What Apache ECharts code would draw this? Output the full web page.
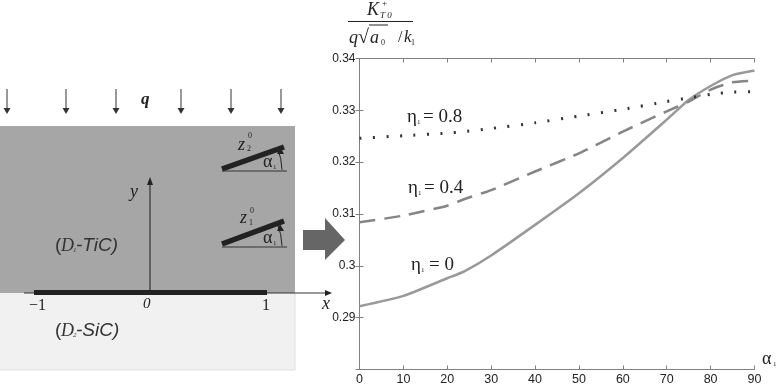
<!DOCTYPE html>
<html><head><meta charset="utf-8">
<style>html,body{margin:0;padding:0;background:#fff}#c{width:778px;height:384px}</style>
<script src="https://cdn.jsdelivr.net/npm/echarts@6/dist/echarts.min.js"></script>
</head><body><div id="c"></div>
<script>
const alphaDeg = [0,10,20,24,30,40,50,60,70,75,80,85,90];
const eta0  = [0.2922,0.2942,0.2976,0.2990,0.3020,0.3079,0.3140,0.3208,0.3282,0.3320,0.3347,0.3368,0.3377];
const eta04 = [0.3084,0.3097,0.3116,0.3129,0.3146,0.3182,0.3217,0.3259,0.3298,0.3317,0.3340,0.3354,0.3357];
const eta08 = [0.3246,0.3251,0.3256,0.3259,0.3265,0.3276,0.3289,0.3302,0.3317,0.3324,0.3331,0.3335,0.3336];
const xTicks = [0,90,10];
const yTicks = [0.28,0.34,0.01];
const pts = a => alphaDeg.map((x,i)=>[x,a[i]]);
const serif = '"Liberation Serif","DejaVu Serif",serif';
const sans = '"Liberation Sans",Arial,sans-serif';
const T = (x,y,text,size,opt={}) => ({type:'text',x,y,silent:true,style:Object.assign({text,font:`${opt.weight||''} ${opt.italic?'italic':''} ${size}px ${opt.family||serif}`,fill:opt.fill||'#222',textAlign:opt.align||'left',textVerticalAlign:'middle'})});
const L = (x1,y1,x2,y2,w,c) => ({type:'line',silent:true,shape:{x1,y1,x2,y2},style:{stroke:c,lineWidth:w}});
const P = (points,c) => ({type:'polygon',silent:true,shape:{points},style:{fill:c}});
const down = x => [L(x,89,x,109,1,'#333'),P([[x-3.5,108],[x+3.5,108],[x,114]],'#333')];
const tiltCrack = (y0,yTop,yEnd,yb) => [
  L(222,y0,284,yTop,5.5,'#222'), L(222,yb,287,yb,1,'#333'),
  {type:'arc',silent:true,shape:{cx:222,cy:yb,r:60,startAngle:-0.40,endAngle:-0.02},style:{stroke:'#222',fill:'none',lineWidth:1}},
  P([[277,yEnd+1],[284,yEnd+1],[280,yEnd-6]],'#222')
];
const graphics = [
  {type:'rect',silent:true,shape:{x:0,y:126,width:295,height:167},style:{fill:'#a6a6a6'}},
  {type:'rect',silent:true,shape:{x:0,y:293,width:295,height:77},style:{fill:'#f1f1f1'}},
  L(295,293,295,370,1,'#e0e0e0'), L(0,370,295,370,1,'#e0e0e0'),
  ...[7,66,116,181,231,281].flatMap(down),
  T(141,100,'q',17,{weight:'bold',italic:true}),
  L(24,293,327,293,1,'#333'), P([[325,290],[325,296],[332,293]],'#222'),
  L(150,293,150,184,1.2,'#333'), P([[147,185],[153,185],[150,177]],'#222'),
  L(34,292.5,267,292.5,5,'#222'),
  T(130,192,'y',18,{italic:true}),
  T(322,304,'x',18,{italic:true}),
  T(29,306,'\u22121',16), T(143,304,'0',15,{italic:true}), T(262,306,'1',16),
  T(55,246,'(',19,{family:sans,fill:'#333'}), T(61,246,'D',18,{italic:true,fill:'#333'}), T(73,250,'1',7,{italic:true,fill:'#333'}), T(76,246,'-TiC)',19,{italic:true,family:sans,fill:'#333'}),
  T(55,331,'(',19,{family:sans,fill:'#333'}), T(61,331,'D',18,{italic:true,fill:'#333'}), T(73,335,'2',7,{italic:true,fill:'#333'}), T(76,331,'-SiC)',19,{italic:true,family:sans,fill:'#333'}),
  ...tiltCrack(169,147,153,171),
  T(238,145,'z',18,{italic:true}), T(248,136,'0',8), T(247,149,'2',8),
  T(263,162,'\u03b1',18), T(273,167,'1',7),
  ...tiltCrack(244,221,230,247),
  T(240,218,'z',18,{italic:true}), T(250,211,'0',8), T(249,223,'1',8),
  T(263,238,'\u03b1',18), T(273,243,'1',7),
  P([[303,230],[325,230],[325,218],[345,240],[325,260],[325,250],[303,250]],'#666'),
  T(367,10,'K',18,{italic:true}), T(382,4,'+',9), T(380,16,'T 0',9,{italic:true}),
  L(348,21.5,413,21.5,1,'#222'),
  T(349,38,'q',18,{italic:true}), T(358,38,'\u221a',20), L(369,25,388,25,1,'#222'),
  T(370,38,'a',18,{italic:true}), T(381,43,'0',8), T(398,38,'/',16), T(404,38,'k',17,{italic:true}), T(411,43,'1',8),
  T(407,117,'\u03b7',19), T(417,122,'1',7), T(423,117,'= 0.8',19),
  T(408,188,'\u03b7',19), T(418,193,'1',7), T(424,188,'= 0.4',19),
  T(411,265,'\u03b7',19), T(421,270,'1',7), T(429,265,'= 0',19),
  T(762,359,'\u03b1',18), T(773,364,'1',7)
];
const axCol = '#808080';
const xBase = {type:'value',min:xTicks[0],max:xTicks[1],interval:xTicks[2],
  axisLine:{show:true,lineStyle:{color:axCol,width:1}},splitLine:{show:false},
  axisTick:{show:true,inside:true,length:4,lineStyle:{color:axCol}}};
const yBase = {type:'value',min:yTicks[0],max:yTicks[1],interval:yTicks[2],
  axisLine:{show:true,lineStyle:{color:axCol,width:1}},splitLine:{show:false},
  axisTick:{show:true,inside:true,length:4,lineStyle:{color:axCol}}};
const line = (name,data,type,col,w) => ({name,type:'line',data:pts(data),symbol:'none',smooth:0.2,
  clip:false,lineStyle:{color:col,width:w,type}});
const chart = echarts.init(document.getElementById('c'));
chart.setOption({
  animation:false,backgroundColor:'#fff',
  grid:{left:359.5,top:58.5,width:395,height:311,outerBoundsMode:'none'},
  xAxis:[
    Object.assign({},xBase,{position:'bottom',axisLabel:{color:'#222',fontFamily:sans,fontSize:12.5,margin:4}}),
    Object.assign({},xBase,{position:'top',axisLabel:{show:false}})
  ],
  yAxis:[
    Object.assign({},yBase,{position:'left',axisLabel:{color:'#222',fontFamily:sans,fontSize:12,margin:4,
      showMinLabel:false,formatter:v=>String(+v.toFixed(2))}}),
    Object.assign({},yBase,{position:'right',axisLabel:{show:false}})
  ],
  series:[
    line('eta=0',eta0,'solid','#999999',2.5),
    line('eta=0.4',eta04,[16,9],'#858585',2.5),
    line('eta=0.8',eta08,[2,11.5],'#333333',3)
  ],
  graphic:{elements:graphics}
});
</script></body></html>
